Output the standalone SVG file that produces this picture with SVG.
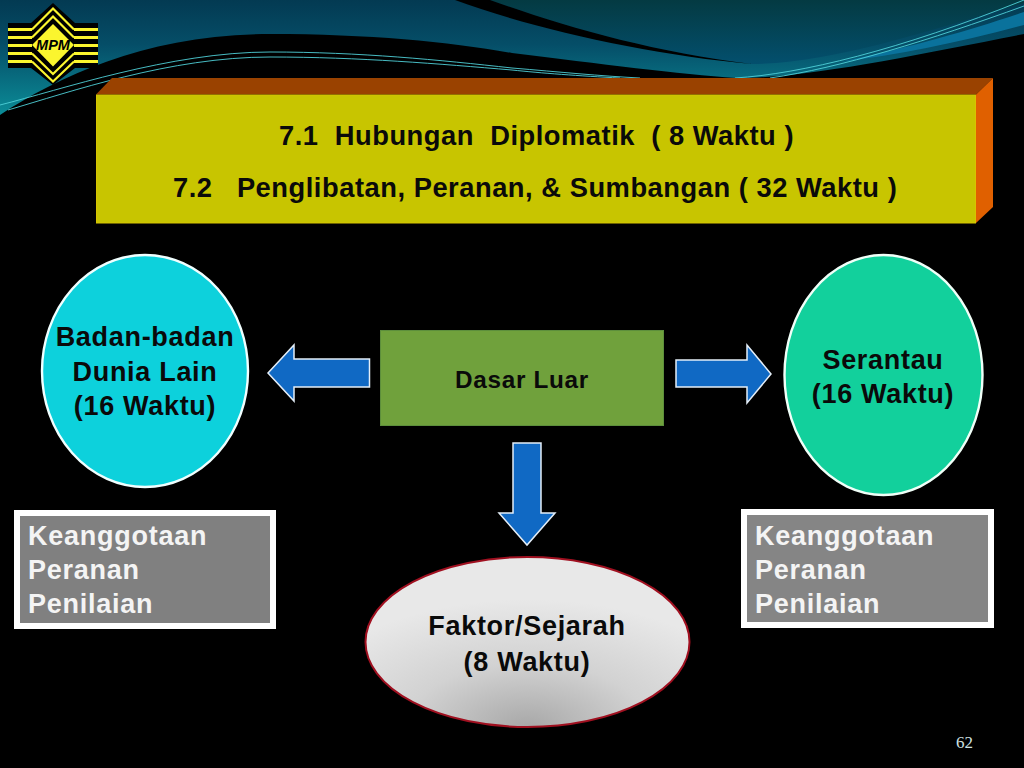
<svg xmlns="http://www.w3.org/2000/svg" width="1024" height="768" viewBox="0 0 1024 768">
<style>
text{font-family:"Liberation Sans",Arial,sans-serif;font-weight:bold;white-space:pre}
.t{font-size:27px;fill:#0a0a0a;text-anchor:middle;letter-spacing:.7px}
.w{font-size:27px;fill:#f4f4f4;letter-spacing:.75px}
.h{font-size:27.3px;fill:#0a0a0a;letter-spacing:.53px}
.arrow{fill:#1069c4;stroke:#e4eef8;stroke-width:1.5}
.gb{stroke:#fff;stroke-width:6}
.ln{fill:none;stroke:#4fd0d8;stroke-width:.9}
.st{fill:#fbf52e}
</style>
<defs>
<linearGradient id="sky" gradientUnits="userSpaceOnUse" x1="0" y1="0" x2="0" y2="112"><stop offset="0" stop-color="#033a52"/><stop offset="0.4" stop-color="#054e68"/><stop offset="1" stop-color="#0b8a96"/></linearGradient>
<linearGradient id="skyR" gradientUnits="userSpaceOnUse" x1="0" y1="0" x2="0" y2="66"><stop offset="0" stop-color="#043a42"/><stop offset="1" stop-color="#03506f"/></linearGradient>
<radialGradient id="grey" cx="0.5" cy="1" r="0.75"><stop offset="0" stop-color="#a8a8a8"/><stop offset="0.5" stop-color="#d2d2d2"/><stop offset="1" stop-color="#e8e8e8"/></radialGradient>
</defs>
<rect width="1024" height="768" fill="#000"/>
<g id="header">
<rect width="1024" height="120" fill="url(#sky)"/>
<path d="M490 0C560 25 650 52 752 64C830 64 930 30 1024 3V0Z" fill="url(#skyR)"/>
<path d="M455 0C530 28 650 55 752 64C650 52 560 25 490 0Z" fill="#000"/>
<path d="M0 115C60 75 150 34 270 34C370 34 450 42 512 53C600 64 680 74 736 78C810 78 920 54 1024 34V120H0Z" fill="#000"/>
<path d="M840 62C920 45 970 30 1024 12V25C960 42 900 55 840 62Z" fill="#0a729c"/>
<path class="ln" d="M0 105C60 90 170 52 270 52C360 52 440 60 512 68C560 72 600 76 640 78"/>
<path class="ln" d="M8 110C70 92 170 57 270 57C360 57 440 64 512 70C540 73 580 76 620 78"/>
<path class="ln" d="M735 78C800 74 900 50 1024 0"/>
<path class="ln" d="M770 78C840 68 930 40 1024 6"/>
</g>
<g id="logo">
<path d="M53 3L75 23H98V68H75L53 85L31 68H8V23H31Z" fill="#000"/>
<path class="st" d="M8 28H32V31H8ZM8 36H32V39H8ZM8 44H32V47H8ZM8 52H32V55H8ZM8 60H32V63H8ZM74 28H98V31H74ZM74 36H98V39H74ZM74 44H98V47H74ZM74 52H98V55H74ZM74 60H98V63H74Z"/>
<path d="M32 29.5L53 8.5L74 29.5M32 61.5L53 81.5L74 61.5" fill="none" stroke="#fbf52e" stroke-width="2.2"/>
<path d="M32 37.5L53 16.5L74 37.5M32 53.5L53 74L74 53.5" fill="none" stroke="#fbf52e" stroke-width="2.2"/>
<path d="M53 24L74 45L53 66.5L32 45Z" fill="#fbf52e"/>
<text x="53" y="50" font-size="14.5" font-style="italic" fill="#000" text-anchor="middle">MPM</text>
</g>
<g id="title">
<path d="M96 94.5L112 78H993L976 94.5Z" fill="#9a4200"/>
<path d="M976 94.5L993 78V207L976 223Z" fill="#e06000"/>
<rect x="96.5" y="95" width="879" height="128" fill="#c8c500" stroke="#d8c400" stroke-width="1"/>
<text class="h" x="279" y="144.5">7.1  Hubungan  Diplomatik  ( 8 Waktu )</text>
<text class="h" x="173" y="196.5">7.2   Penglibatan, Peranan, &amp; Sumbangan ( 32 Waktu )</text>
</g>
<g id="badan">
<ellipse cx="145" cy="371" rx="103" ry="116" fill="#0dd1dc" stroke="#f0ffff" stroke-width="2.4"/>
<text class="t" x="145" y="346">Badan-badan</text>
<text class="t" x="145" y="381">Dunia Lain</text>
<text class="t" x="145" y="415">(16 Waktu)</text>
</g>
<g id="serantau">
<ellipse cx="883.5" cy="375" rx="99" ry="120" fill="#12d09c" stroke="#f0fff8" stroke-width="2.4"/>
<text class="t" x="883" y="369">Serantau</text>
<text class="t" x="883" y="403">(16 Waktu)</text>
</g>
<g id="dasar">
<rect x="380.5" y="330.5" width="283" height="95" fill="#70a13c" stroke="#5d8f3c" stroke-width="1"/>
<text x="522" y="388" font-size="24.3" fill="#0a0a0a" letter-spacing=".7" text-anchor="middle">Dasar Luar</text>
</g>
<g id="faktor">
<ellipse cx="527.5" cy="642" rx="162" ry="85" fill="url(#grey)" stroke="#a01020" stroke-width="2"/>
<text class="t" x="527" y="635">Faktor/Sejarah</text>
<text class="t" x="527" y="671">(8 Waktu)</text>
</g>
<g id="box-left">
<rect class="gb" x="17" y="513" width="256" height="113" fill="#808080"/>
<text class="w" x="28" y="545">Keanggotaan</text>
<text class="w" x="28" y="579">Peranan</text>
<text class="w" x="28" y="613">Penilaian</text>
</g>
<g id="box-right">
<rect class="gb" x="744" y="512" width="247" height="113" fill="#858585"/>
<text class="w" x="755" y="545">Keanggotaan</text>
<text class="w" x="755" y="579">Peranan</text>
<text class="w" x="755" y="613">Penilaian</text>
</g>
<g id="connectors">
<path class="arrow" d="M369.5 359H294V345L268 373L294 401V387H369.5Z"/>
<path class="arrow" d="M676 360H747V345L771 374L747 403V387H676Z"/>
<path class="arrow" d="M513 443H541V513H555L527 545L499 513H513Z"/>
</g>
<text id="page" x="956" y="748" font-size="17" style="font-family:'Liberation Serif',serif;font-weight:normal" fill="#cfe0e0">62</text>
</svg>
